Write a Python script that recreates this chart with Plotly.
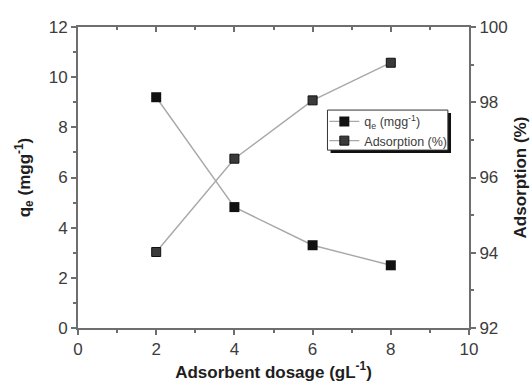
import plotly.graph_objects as go

dosage = [2, 4, 6, 8]
qe = [9.2, 4.82, 3.3, 2.5]
adsorption = [94.02, 96.5, 98.05, 99.05]
x_ticks = [0, 2, 4, 6, 8, 10]
y1_ticks = [0, 2, 4, 6, 8, 10, 12]
y2_ticks = [92, 94, 96, 98, 100]

FONT = "Liberation Sans, Arial, sans-serif"
AX = "#6e6e6e"
TXT = "#3c3c3c"
TFS = 17

fig = go.Figure()
fig.add_trace(go.Scatter(
    x=dosage, y=qe, name="q<sub>e</sub> (mgg<sup>-1</sup>)",
    mode="lines+markers",
    line=dict(color="#a8a8a8", width=1.4),
    marker=dict(symbol="square", size=10, color="#111111", line=dict(color="#111111", width=0)),
    yaxis="y",
))
fig.add_trace(go.Scatter(
    x=dosage, y=adsorption, name="Adsorption (%)",
    mode="lines+markers",
    line=dict(color="#a8a8a8", width=1.4),
    marker=dict(symbol="square", size=9, color="#3a3a3a", line=dict(color="#111111", width=1)),
    yaxis="y2",
))
# invisible helper so the top axis with inward ticks gets drawn
fig.add_trace(go.Scatter(
    x=dosage, y=qe, xaxis="x2", yaxis="y", mode="markers",
    marker=dict(opacity=0), showlegend=False, hoverinfo="skip",
))

common = dict(showgrid=False, zeroline=False, showline=True, linecolor=AX, linewidth=2,
              ticks="outside", ticklen=5, tickwidth=1.5, tickcolor=AX,
              tickfont=dict(family=FONT, size=TFS, color=TXT))

fig.update_layout(
    width=530, height=385,
    margin=dict(l=78, r=61, t=27, b=57),
    paper_bgcolor="white", plot_bgcolor="white",
    font=dict(family=FONT, color=TXT),
    xaxis=dict(range=[0, 10], tickvals=x_ticks, automargin=False,
               minor=dict(dtick=1, ticks="outside", ticklen=3, tickcolor=AX),
               title=dict(text="<b>Adsorbent dosage (gL<sup>-1</sup>)</b>",
                          font=dict(family=FONT, size=17, color="#1e1e1e"), standoff=4),
               **common),
    xaxis2=dict(range=[0, 10], overlaying="x", side="top", anchor="y", automargin=False,
                showgrid=False, zeroline=False, showline=True, linecolor=AX, linewidth=2,
                showticklabels=False, tickmode="linear", tick0=0, dtick=2,
                ticks="inside", ticklen=5, tickwidth=1.5, tickcolor=AX,
                minor=dict(dtick=1, ticks="inside", ticklen=3, tickcolor=AX)),
    yaxis=dict(range=[0, 12], tickvals=y1_ticks, automargin=False,
               minor=dict(dtick=1, ticks="outside", ticklen=3, tickcolor=AX),
               title=dict(text="<b>q<sub>e</sub> (mgg<sup>-1</sup>)</b>",
                          font=dict(family=FONT, size=17, color="#1e1e1e"), standoff=14),
               **common),
    yaxis2=dict(range=[92, 100], tickvals=y2_ticks, overlaying="y", side="right",
                automargin=False,
                minor=dict(dtick=1, ticks="outside", ticklen=3, tickcolor=AX),
                title=dict(text="<b>Adsorption (%)</b>",
                           font=dict(family=FONT, size=17, color="#1e1e1e"), standoff=10),
                **common),
    legend=dict(x=0.630, y=0.735, xanchor="left", yanchor="top",
                bgcolor="rgba(0,0,0,0)", borderwidth=0,
                font=dict(family=FONT, size=12.5, color=TXT),
                tracegroupgap=0, itemwidth=30),
    showlegend=True,
)

# legend frame with drop shadow
fig.add_shape(type="rect", xref="paper", yref="paper",
              x0=0.646, x1=0.954, y0=0.581, y1=0.714,
              fillcolor="#111111", line=dict(width=0), layer="above")
fig.add_shape(type="rect", xref="paper", yref="paper",
              x0=0.638, x1=0.946, y0=0.591, y1=0.724,
              fillcolor="white", line=dict(color="#333333", width=1), layer="above")

fig.write_html("out.html")
